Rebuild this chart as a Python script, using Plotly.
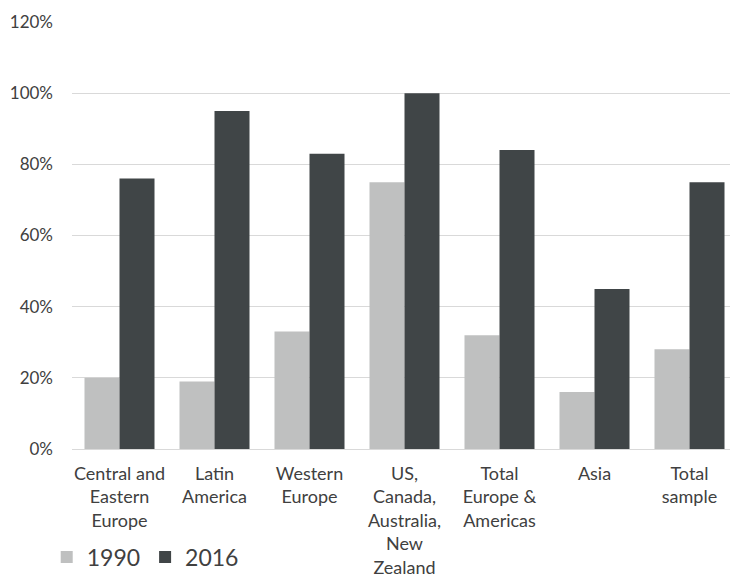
import plotly.graph_objects as go

categories = [
    "Central and<br>Eastern<br>Europe",
    "Latin<br>America",
    "Western<br>Europe",
    "US,<br>Canada,<br>Australia,<br>New<br>Zealand",
    "Total<br>Europe &<br>Americas",
    "Asia",
    "Total<br>sample",
]
values_1990 = [20, 19, 33, 75, 32, 16, 28]
values_2016 = [76, 95, 83, 100, 84, 45, 75]
tick_vals = [0, 20, 40, 60, 80, 100, 120]
tick_text = ["0%", "20%", "40%", "60%", "80%", "100%", "120%"]

FONT = "Lato, 'Open Sans', sans-serif"
TXT = "#404040"

fig = go.Figure()
fig.add_trace(go.Bar(name="1990", x=list(range(len(categories))), y=values_1990,
                     marker=dict(color="#bfc0c0", line=dict(width=0))))
fig.add_trace(go.Bar(name="2016", x=list(range(len(categories))), y=values_2016,
                     marker=dict(color="#404547", line=dict(width=0))))

fig.update_layout(
    width=730, height=579,
    margin=dict(l=72, r=0, t=22, b=130, autoexpand=False),
    paper_bgcolor="white", plot_bgcolor="white",
    barmode="group", bargap=0.263, bargroupgap=0,
    font=dict(family=FONT, size=18, color=TXT),
    showlegend=True,
    legend=dict(orientation="h", xref="container", yref="container",
                x=0.064, y=0.038, xanchor="left", yanchor="middle",
                font=dict(size=23, color=TXT), bgcolor="rgba(0,0,0,0)",
                tracegroupgap=0),
)
fig.update_yaxes(range=[0, 120], tickvals=tick_vals, ticktext=tick_text,
                 showgrid=True, gridcolor="#d9d9d9", gridwidth=1,
                 zeroline=True, zerolinecolor="#d9d9d9", zerolinewidth=1,
                 showline=False, ticks="", ticklabelstandoff=18, automargin=False,
                 tickfont=dict(size=17, color=TXT))
fig.update_xaxes(range=[-0.5, -0.5 + 658 / 95], tickvals=list(range(len(categories))),
                 ticktext=categories, showline=False, showgrid=False, zeroline=False,
                 ticks="", tickangle=0, automargin=False,
                 tickfont=dict(size=18, color=TXT), ticklabelstandoff=12)

fig.write_html("out.html", config={"displayModeBar": False},
               post_script="document.body.style.margin='0';document.body.style.overflow='hidden';")
